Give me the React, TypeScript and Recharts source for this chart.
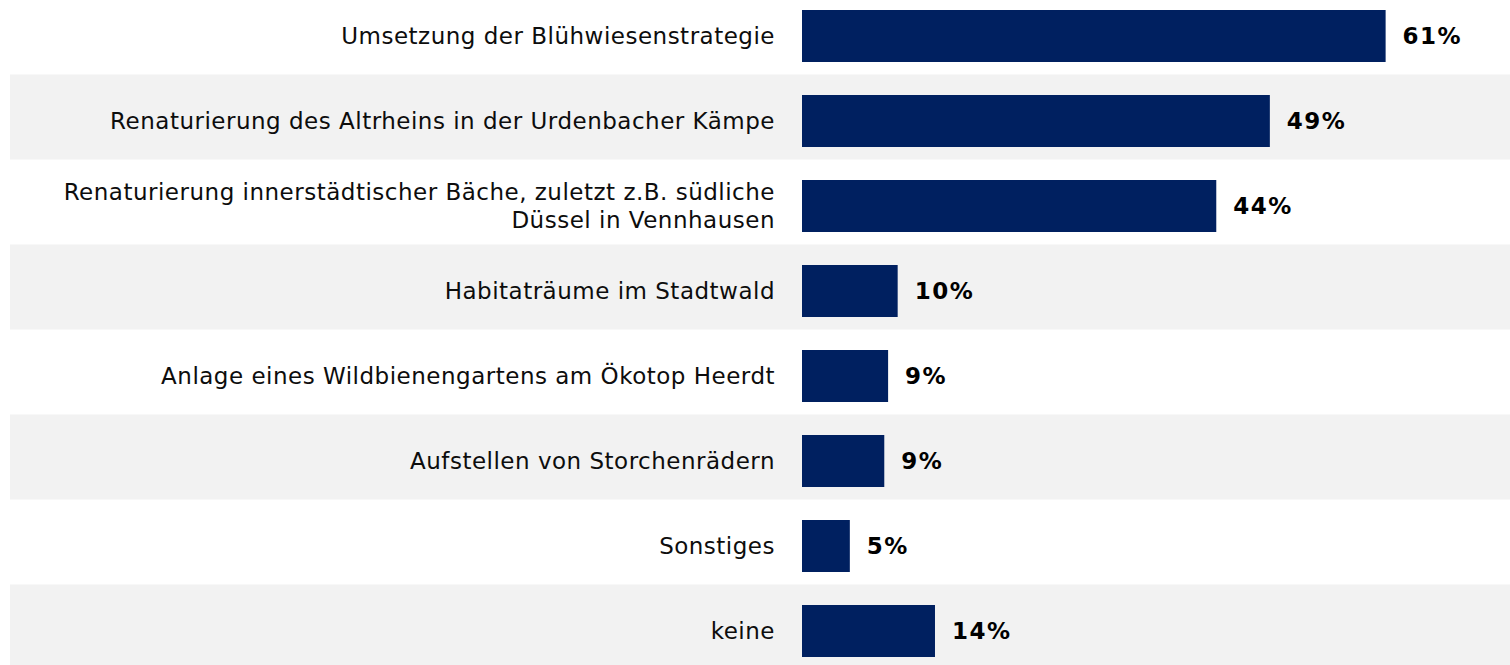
import { BarChart, Bar, XAxis, YAxis, LabelList } from 'recharts';

document.body.style.margin = '0';

const categories = [
  'Umsetzung der Blühwiesenstrategie',
  'Renaturierung des Altrheins in der Urdenbacher Kämpe',
  'Renaturierung innerstädtischer Bäche, zuletzt z.B. südliche\nDüssel in Vennhausen',
  'Habitaträume im Stadtwald',
  'Anlage eines Wildbienengartens am Ökotop Heerdt',
  'Aufstellen von Storchenrädern',
  'Sonstiges',
  'keine',
];

// bar lengths (percent)
const shares = [61, 48.9, 43.3, 10, 9, 8.6, 5, 13.9];
const shareLabels = ['61%', '49%', '44%', '10%', '9%', '9%', '5%', '14%'];

const chartData = categories.map((name, i) => ({
  name,
  value: shares[i],
  label: shareLabels[i],
}));

const FONT = '"DejaVu Sans", Verdana, sans-serif';

const CategoryTick = ({ x, y, payload }: any) => {
  const lines = String(payload.value).split('\n');
  const lineHeight = 28;
  const first = -((lines.length - 1) * lineHeight) / 2 + 8;
  return (
    <text
      x={x}
      y={y}
      textAnchor="end"
      fontSize={23}
      letterSpacing={0.5}
      fill="#0d0d0d"
      fontFamily={FONT}
    >
      {lines.map((line, i) => (
        <tspan key={i} x={x} dy={i === 0 ? first : lineHeight}>
          {line}
        </tspan>
      ))}
    </text>
  );
};

// alternating grey rows, slightly shifted up against the bars like the original
const RowBackground = (props: any) => {
  if (props.index % 2 === 0) return <g />;
  return <rect x={10} y={props.y - 20.5} width={1500} height={85} fill="#F2F2F2" />;
};

const App = () => {
  return (
    <div style={{ width: 1510, height: 665, overflow: 'hidden', background: '#fff' }}>
      <div style={{ marginTop: -7 }}>
        <BarChart
          width={1510}
          height={680}
          data={chartData}
          layout="vertical"
          margin={{ top: 0, right: 0, left: 0, bottom: 0 }}
          barSize={52}
        >
          <XAxis type="number" domain={[0, 74]} hide />
          <Bar dataKey="value" fill="#002060" background={<RowBackground />} isAnimationActive={false}>
            <LabelList
              dataKey="label"
              position="right"
              offset={17}
              fill="#000"
              fontSize={23}
              letterSpacing={1.5}
              fontWeight="bold"
              fontFamily={FONT}
            />
          </Bar>
          <YAxis
            type="category"
            dataKey="name"
            width={802}
            tickLine={false}
            axisLine={false}
            tickSize={0}
            tickMargin={27}
            interval={0}
            tick={<CategoryTick />}
          />
        </BarChart>
      </div>
    </div>
  );
};

export default App;
